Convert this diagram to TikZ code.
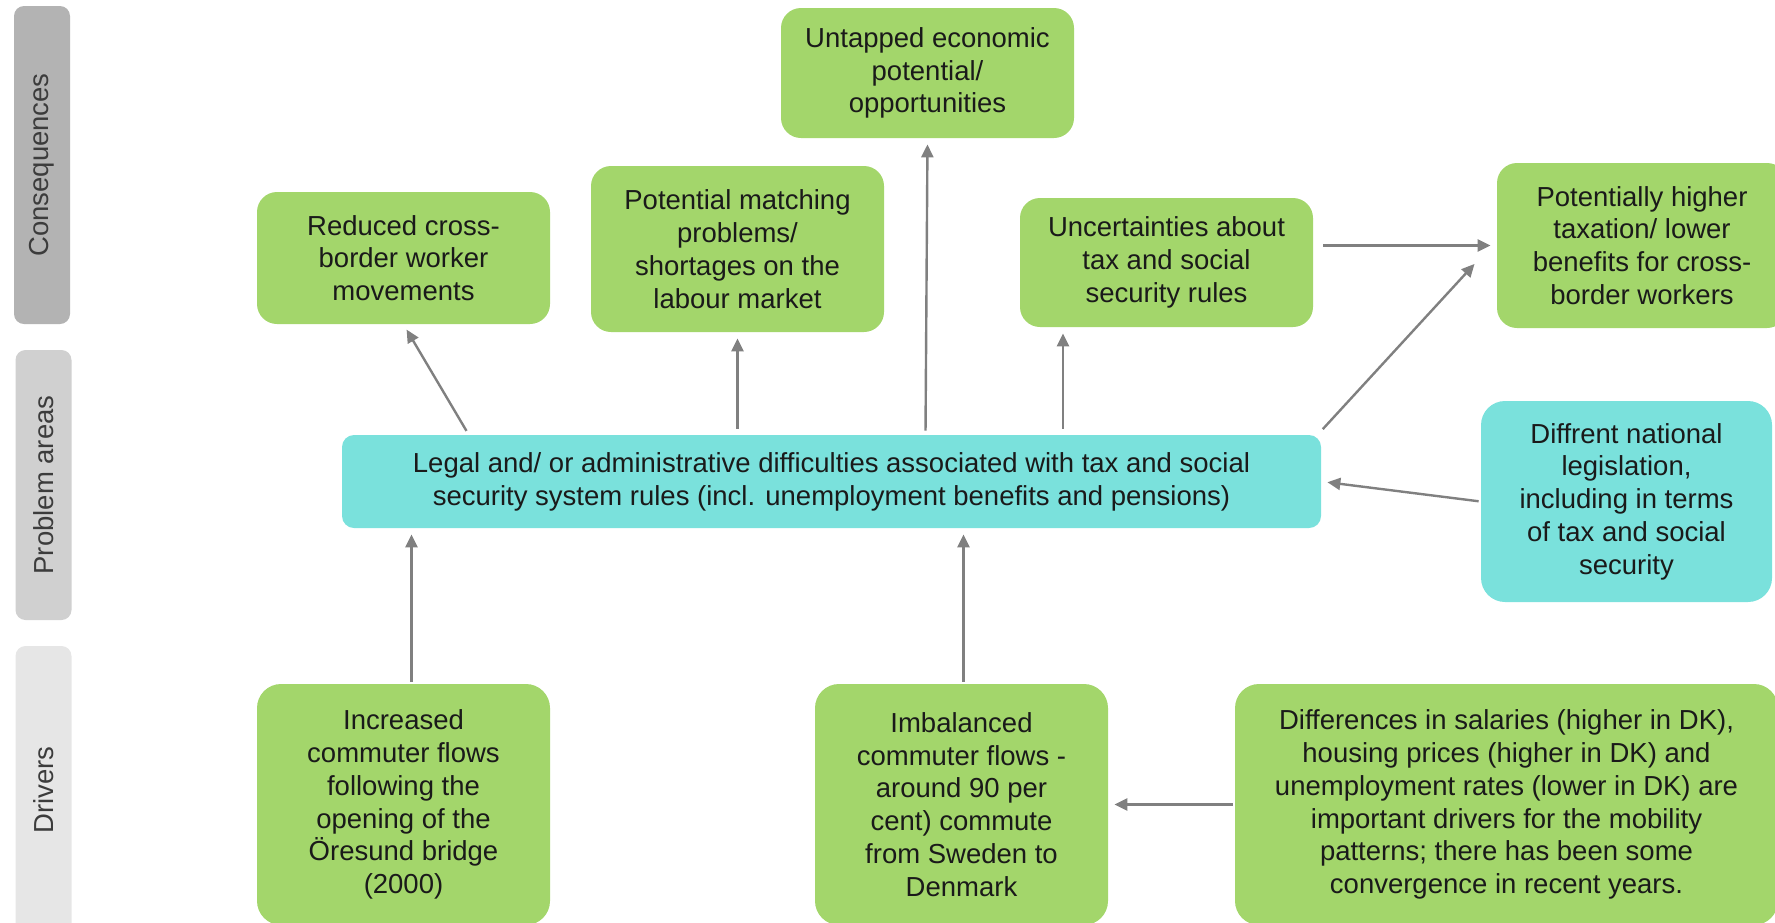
\documentclass[tikz,border=0pt]{standalone}
\usepackage{fontspec}
\setmainfont{Liberation Sans}
\usetikzlibrary{arrows.meta}
\definecolor{boxgreen}{HTML}{A3D66B}
\definecolor{boxcyan}{HTML}{7AE1DC}
\definecolor{arrowgray}{HTML}{808080}
\definecolor{bardark}{HTML}{B3B3B3}
\definecolor{barmid}{HTML}{D0D0D0}
\definecolor{barlight}{HTML}{E6E6E6}
\definecolor{textdark}{HTML}{1A1A1A}

\begin{document}
\begin{tikzpicture}[x=0.5pt, y=-0.5pt,
  box/.style={rectangle, rounded corners=10pt, fill=boxgreen, text=textdark, align=center, inner sep=0pt, font=\fontsize{13.75}{16.4}\selectfont},
  problem/.style={box, fill=boxcyan},
  bar/.style={rectangle, rounded corners=5pt, text=textdark!85, inner sep=0pt, rotate=90, minimum height=28pt, font=\fontsize{13.75}{16.4}\selectfont},
  arr/.style={-{Triangle[length=6.5pt,width=6pt]}, draw=arrowgray, line width=1.2pt, shorten >=3pt, shorten <=1pt}]
\useasboundingbox (0,0) rectangle (1775,922);
\clip (0,0) rectangle (1775,922);

% side bars
\node (cons) [bar, fill=bardark, minimum width=159pt] at (42,165) {Consequences};
\node (prob) [bar, fill=barmid, minimum width=135pt] at (43.5,485) {Problem areas};
\node (driv) [bar, fill=barlight, minimum width=144pt] at (43.5,790) {Drivers};

% consequences
\node (reduced) [box, minimum width=146.5pt, minimum height=66pt] at (403.5,258) {Reduced cross-\\border worker\\movements};
\node (matching) [box, minimum width=146.5pt, minimum height=83pt] at (737.5,249) {Potential matching\\problems/\\shortages on the\\labour market};
\node (untapped) [box, minimum width=146.5pt, minimum height=65pt] at (927.5,73) {Untapped economic\\potential/\\opportunities};
\node (uncert) [box, minimum width=146.5pt, minimum height=64.5pt] at (1166.5,262.5) {Uncertainties about\\tax and social\\security rules};
\node (higher) [box, minimum width=145pt, minimum height=82.5pt] at (1642,245.5) {Potentially higher\\taxation/ lower\\benefits for cross-\\border workers};

% problem areas
\node (legal) [problem, rounded corners=6pt, minimum width=489.5pt, minimum height=46.5pt] at (831.5,481.5) {Legal and/ or administrative difficulties associated with tax and social\\security system rules (incl. unemployment benefits and pensions)};
\node (diffrent) [problem, rounded corners=12pt, minimum width=145.5pt, minimum height=100.5pt] at (1626.5,501.5) {Diffrent national\\legislation,\\including in terms\\of tax and social\\security};

% drivers
\node (increased) [box, rounded corners=12pt, minimum width=146.5pt, minimum height=120.5pt] at (403.5,804.5) {Increased\\commuter flows\\following the\\opening of the\\Öresund bridge\\(2000)};
\node (imbalanced) [box, rounded corners=12pt, minimum width=146.5pt, minimum height=120.5pt] at (961.5,804.5) {Imbalanced\\commuter flows -\\around 90 per\\cent) commute\\from Sweden to\\Denmark};
\node (differences) [box, rounded corners=12pt, minimum width=271.5pt, minimum height=120.5pt] at (1506.5,804.5) {Differences in salaries (higher in DK),\\housing prices (higher in DK) and\\unemployment rates (lower in DK) are\\important drivers for the mobility\\patterns; there has been some\\convergence in recent years.};

% arrows
\draw[arr] ([xshift=32pt,yshift=1pt]legal.north -| reduced.south) -- (reduced.south);
\draw[arr] ([yshift=2pt]legal.north -| matching.south) -- (matching.south);
\draw[arr] ([xshift=-1pt,yshift=1pt]legal.north -| untapped.south) -- (untapped.south);
\draw[arr] ([xshift=-51.75pt,yshift=2pt]legal.north -| uncert.south) -- ([xshift=-51.75pt]uncert.south);
\draw[arr] ([yshift=2pt]legal.north east) -- ([xshift=-9pt,yshift=-7pt]higher.west);
\draw[arr] (uncert.east |- higher.west) ++(4pt,0) -- (higher.west);
\draw[arr] (diffrent.west) -- (legal.east);
\draw[arr] ([xshift=4pt]increased.north) -- ([xshift=4pt]increased.north |- legal.south);
\draw[arr] ([xshift=1pt]imbalanced.north) -- ([xshift=1pt]imbalanced.north |- legal.south);
\draw[arr] (differences.west) -- (imbalanced.east);

\end{tikzpicture}
\end{document}
